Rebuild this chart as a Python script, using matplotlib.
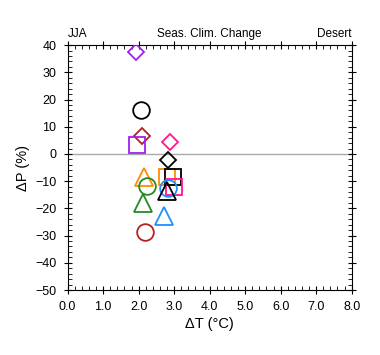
import numpy as np
import matplotlib
matplotlib.use("Agg")
from matplotlib import pyplot as plt
from matplotlib.ticker import MultipleLocator, FormatStrFormatter

plt.rcParams['font.family'] = ['Liberation Sans', 'DejaVu Sans']

# scenario points: (dT, dP), marker, colour
dT = [1.92, 2.08, 2.10, 1.96, 2.88, 2.82, 2.15, 2.23, 2.11, 2.72, 2.19, 2.79, 2.97, 3.00, 2.83, 2.79]
dP = [37.5, 16.2, 6.7, 3.3, 4.5, -2.2, -8.3, -11.8, -18.2, -22.8, -28.6, -8.5, -8.5, -12.0, -12.6, -13.5]
markers = ['D', 'o', 'D', 's', 'D', 'D', '^', 'o', '^', '^', 'o', 's', 's', 's', 'o', '^']
colors = ['#a020f0', 'black', '#b22222', '#a020f0', '#ff1493', 'black', '#ff8c00', '#228b22',
          '#228b22', '#1e90ff', '#b22222', '#ff8c00', 'black', '#ff1493', '#1e90ff', 'black']
sizes = {'o': 12, 's': 12, 'D': 8.5, '^': 12.5}

fig = plt.figure(figsize=(3.8, 3.55), dpi=100)
ax = fig.add_axes([0.178, 0.183, 0.7475, 0.69])

ax.axhline(0, color='#aaaaaa', lw=1, zorder=1)
for x, y, m, c in zip(dT, dP, markers, colors):
    ax.plot(x, y, marker=m, ms=sizes[m], mfc='none', mec=c, mew=1.3, ls='none', zorder=3)

ax.set_xlim(0, 8)
ax.set_ylim(-50, 40)
ax.xaxis.set_major_locator(MultipleLocator(1))
ax.xaxis.set_minor_locator(MultipleLocator(0.2))
ax.yaxis.set_major_locator(MultipleLocator(10))
ax.yaxis.set_minor_locator(MultipleLocator(2))
ax.xaxis.set_major_formatter(FormatStrFormatter('%.1f'))
ax.tick_params(which='major', direction='inout', length=6, width=0.8, labelsize=9,
               top=True, right=True, pad=5)
ax.tick_params(which='minor', direction='in', length=3, width=0.6, top=True, right=True)
for s in ax.spines.values():
    s.set_linewidth(0.8)

ax.set_xlabel('ΔT (°C)', fontsize=10.5, labelpad=3)
ax.set_ylabel('ΔP (%)', fontsize=10.5, labelpad=4)
ax.set_title('JJA', loc='left', fontsize=8.5, pad=6)
ax.set_title('Seas. Clim. Change', loc='center', fontsize=8.5, pad=6)
ax.set_title('Desert', loc='right', fontsize=8.5, pad=6)

fig.savefig('out.png', dpi=100)
